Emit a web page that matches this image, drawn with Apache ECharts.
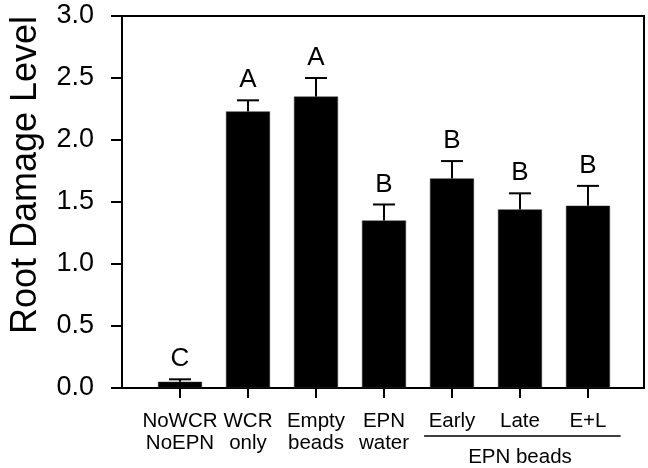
<!DOCTYPE html>
<html>
<head>
<meta charset="utf-8">
<script src="https://cdn.jsdelivr.net/npm/echarts@6/dist/echarts.min.js"></script>
<style>html,body{margin:0;padding:0;background:#fff}#c{width:648px;height:468px}</style>
</head>
<body>
<div id="c"></div>
<script>
const categories = ['NoWCR\nNoEPN', 'WCR\nonly', 'Empty\nbeads', 'EPN\nwater', 'Early', 'Late', 'E+L'];
const means = [0.05, 2.23, 2.35, 1.35, 1.69, 1.44, 1.47];
const errTop = [0.07, 2.32, 2.50, 1.48, 1.83, 1.57, 1.63];
const letters = ['C', 'A', 'A', 'B', 'B', 'B', 'B'];
const yTicks = [0, 0.5, 1.0, 1.5, 2.0, 2.5, 3.0];
const groupLabel = 'EPN beads';
const groupSpan = [3.59, 6.48];
const groupCenter = 5;

const FONT = "'Liberation Sans', Arial, Helvetica, sans-serif";
const positions = categories.map((c, i) => i);
const chart = echarts.init(document.getElementById('c'));

chart.setOption({
  animation: false,
  grid: { left: 113, right: 4, top: 16, bottom: 80, show: true, borderColor: '#000', borderWidth: 2 },
  xAxis: {
    type: 'value', min: -0.853, max: 6.824,
    splitLine: { show: false },
    axisLine: { onZero: false, lineStyle: { color: '#000', width: 2 } },
    axisTick: { customValues: positions, length: 10, lineStyle: { color: '#000', width: 2 } },
    axisLabel: {
      customValues: positions,
      formatter: v => categories[Math.round(v)],
      color: '#000', fontSize: 20.5, lineHeight: 22, fontFamily: FONT, margin: 22
    }
  },
  yAxis: {
    type: 'value', min: yTicks[0], max: yTicks[yTicks.length - 1], interval: 0.5,
    name: 'Root Damage Level', nameLocation: 'middle', nameGap: 78, nameRotate: 90,
    nameTextStyle: { color: '#000', fontSize: 36, fontFamily: FONT, padding: [0, 0, 0, 54] },
    splitLine: { show: false },
    axisLine: { show: true, onZero: false, lineStyle: { color: '#000', width: 2 } },
    axisTick: { show: true, length: 11, lineStyle: { color: '#000', width: 2 } },
    axisLabel: { formatter: v => v.toFixed(1), color: '#000', fontSize: 27, fontFamily: FONT, margin: 28 }
  },
  series: [
    {
      type: 'bar', barWidth: 44,
      data: means.map((m, i) => [i, m]),
      itemStyle: { color: '#000', borderColor: '#333', borderWidth: 0.5 },
      z: 2
    },
    {
      type: 'custom', z: 3,
      data: means.map((m, i) => [i, m, errTop[i]]),
      renderItem: function (params, api) {
        const x = api.value(0), m = api.value(1), e = api.value(2);
        const top = api.coord([x, e]);
        const base = api.coord([x, m]);
        const half = 11;
        return {
          type: 'group',
          children: [
            { type: 'line', shape: { x1: top[0], y1: base[1], x2: top[0], y2: top[1] }, style: { stroke: '#000', lineWidth: 2 } },
            { type: 'line', shape: { x1: top[0] - half, y1: top[1], x2: top[0] + half, y2: top[1] }, style: { stroke: '#000', lineWidth: 2 } },
            { type: 'text', x: top[0], y: top[1] - 7, style: { text: letters[params.dataIndex], fill: '#000', font: '26px ' + FONT, align: 'center', verticalAlign: 'bottom' } }
          ]
        };
      }
    }
  ]
});

const xL = chart.convertToPixel({ xAxisIndex: 0 }, groupSpan[0]);
const xR = chart.convertToPixel({ xAxisIndex: 0 }, groupSpan[1]);
const xC = chart.convertToPixel({ xAxisIndex: 0 }, groupCenter);
const y0 = chart.convertToPixel({ yAxisIndex: 0 }, 0);
chart.setOption({
  graphic: [
    { type: 'line', shape: { x1: xL, y1: y0 + 48, x2: xR, y2: y0 + 48 }, style: { stroke: '#000', lineWidth: 1.5 } },
    { type: 'text', x: xC, y: y0 + 69, style: { text: groupLabel, fill: '#000', font: '20.5px ' + FONT, align: 'center', verticalAlign: 'middle' } }
  ]
});
</script>
</body>
</html>
